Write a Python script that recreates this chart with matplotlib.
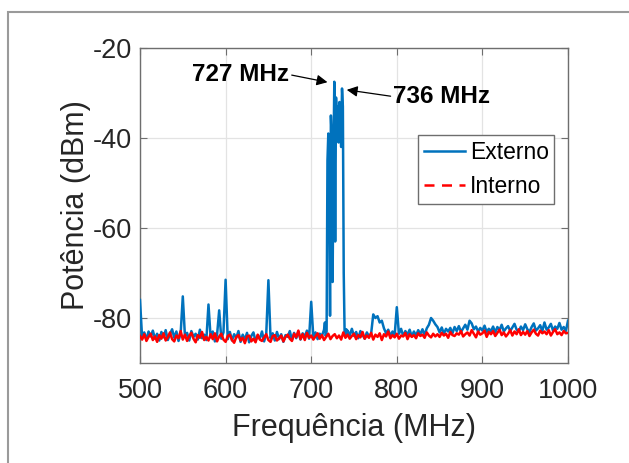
import numpy as np
import matplotlib
matplotlib.use('Agg')
import matplotlib.pyplot as plt
from matplotlib.lines import Line2D
from matplotlib.patches import Rectangle

plt.rcParams['font.family'] = ['Liberation Sans', 'DejaVu Sans']
plt.rcParams['axes.unicode_minus'] = False

# Externo (blue) - lower band 500..715 MHz, step 2.5
ext_low = [
    -76.0, -84.5, -83.2, -84.8, -83.0, -84.1, -82.8, -84.6, -83.5, -85.0,
    -83.1, -84.3, -82.7, -84.9, -83.6, -82.5, -84.4, -83.0, -85.1, -83.4,
    -75.2, -84.0, -83.3, -85.0, -82.9, -84.2, -83.5, -84.8, -82.6, -84.5,
    -83.7, -84.9, -77.0, -84.3, -83.0, -85.2, -83.8, -78.3, -84.6, -83.2,
    -71.5, -84.7, -83.1, -85.0, -83.6, -84.4, -82.9, -85.3, -83.7, -84.8,
    -83.3, -85.4, -84.0, -83.2, -85.1, -83.9, -84.6, -83.0, -85.2, -83.5,
    -71.6, -84.5, -83.4, -85.0, -83.1, -84.7, -83.6, -85.3, -83.8, -84.2,
    -82.9, -84.9, -83.3, -84.5, -83.0, -84.8, -83.4, -84.1, -82.8, -84.6,
    -76.4, -84.3, -83.2, -84.7, -83.5, -84.0, -82.6,
]
# Externo - peak region 716..742 MHz, step 1
ext_peak = [
    -81.0, -84.0, -83.0, -45.0, -39.0, -50.0, -79.5, -35.0, -40.0, -72.0,
    -45.0, -27.5, -63.0, -31.0, -36.0, -33.0, -41.0, -32.0, -37.0, -42.0,
    -29.0, -33.0, -70.0, -83.0, -84.2, -82.5, -83.4,
]
# Externo - upper band 742.5..1000 MHz, step 2.5
ext_high = [
    -82.8, -83.9, -82.4, -84.0, -83.1, -84.5, -82.9, -83.8, -84.6, -83.2,
    -84.1, -83.5, -79.2, -80.0, -79.6, -81.0, -80.6, -82.3, -83.4, -82.6,
    -84.0, -83.0, -83.8, -77.6, -83.5, -82.4, -84.0, -82.9, -83.7, -82.6,
    -84.1, -83.0, -83.9, -82.7, -83.6, -82.5, -83.8, -82.3, -81.5, -80.0,
    -80.6, -81.4, -82.0, -83.2, -82.1, -83.5, -82.4, -83.0, -82.2, -83.4,
    -82.0, -82.9, -81.8, -83.1, -82.3, -81.5, -82.6, -80.6, -81.2, -82.5,
    -81.9, -83.0, -82.2, -82.8, -81.7, -83.1, -82.4, -82.9, -81.9, -83.2,
    -82.0, -82.7, -81.5, -83.0, -82.3, -81.8, -82.9, -82.1, -81.3, -82.6,
    -83.0, -81.9, -82.7, -81.4, -82.5, -83.1, -82.0, -81.2, -82.8, -82.3,
    -81.6, -82.9, -81.0, -82.6, -82.1, -81.3, -82.8, -81.9, -82.4, -81.1,
    -82.6, -82.0, -82.9, -80.6,
]
# Interno (red) 500..1000 MHz, step 2.5
interno = [
    -84.0, -84.8, -83.6, -85.1, -84.2, -83.5, -84.9, -84.1, -85.3, -83.8,
    -84.6, -83.4, -85.0, -84.3, -83.2, -84.7, -85.2, -83.9, -84.5, -82.9,
    -84.8, -83.7, -85.1, -84.0, -83.3, -84.6, -85.4, -83.8, -84.4, -83.1,
    -84.9, -84.2, -85.0, -83.6, -84.7, -83.4, -85.2, -84.1, -83.5, -84.8,
    -85.3, -84.0, -83.7, -84.9, -85.5, -84.2, -83.8, -85.0, -84.4, -85.6,
    -84.1, -83.9, -85.2, -84.6, -85.4, -83.7, -84.8, -85.1, -84.3, -83.6,
    -84.9, -85.3, -84.0, -83.8, -85.0, -84.5, -83.9, -85.2, -84.2, -83.7,
    -84.6, -85.1, -83.5, -84.3, -82.8, -84.7, -83.6, -84.9, -83.3, -84.4,
    -83.9, -84.8, -84.1, -83.4, -84.6, -83.8, -84.9, -84.2, -83.5, -84.7,
    -84.0, -83.6, -84.5, -83.9, -84.8, -83.2, -84.4, -83.7, -84.6, -84.0,
    -83.5, -84.7, -83.8, -84.3, -83.1, -84.6, -83.9, -84.4, -83.3, -84.8,
    -83.7, -84.2, -83.4, -84.9, -83.6, -84.1, -83.0, -84.5, -83.8, -84.3,
    -83.5, -84.6, -83.9, -84.1, -83.3, -84.7, -83.6, -84.2, -83.8, -84.5,
    -83.4, -84.0, -83.7, -84.4, -83.2, -83.9, -84.3, -83.5, -84.1, -83.6,
    -84.2, -83.3, -83.9, -83.5, -84.4, -83.1, -83.8, -84.0, -83.4, -83.7,
    -82.9, -84.1, -83.6, -83.2, -83.9, -82.7, -83.5, -84.3, -83.0, -83.7,
    -83.4, -82.8, -84.2, -83.1, -83.6, -82.9, -84.0, -83.3, -82.6, -83.8,
    -83.2, -84.1, -83.5, -82.7, -83.9, -83.0, -83.6, -82.5, -83.8, -83.1,
    -83.7, -82.9, -84.0, -83.2, -82.6, -83.5, -83.9, -82.8, -83.4, -83.0,
    -83.6, -82.7, -83.9, -83.1, -82.5, -83.6, -83.2, -83.8, -82.9, -83.4,
    -83.3,
]

f_low = np.linspace(500, 715, len(ext_low))
f_peak = np.linspace(716, 742, len(ext_peak))
f_high = np.linspace(742.5, 1000, len(ext_high))
f_ext = np.concatenate([f_low, f_peak, f_high])
p_ext = np.concatenate([ext_low, ext_peak, ext_high])
f_int = np.linspace(500, 1000, len(interno))

xticks = [500, 600, 700, 800, 900, 1000]
yticks = [-80, -60, -40, -20]

blue = '#0072BD'
fig = plt.figure(figsize=(6.29, 4.63), dpi=100)
ax = fig.add_axes([140/629, 1-363/463, 428/629, 315/463])

ax.plot(f_ext, p_ext, color=blue, lw=1.8, zorder=3)
ax.plot(f_int, interno, color='red', lw=1.8, zorder=4)

ax.set_xlim(500, 1000)
ax.set_ylim(-90, -20)
ax.set_xticks(xticks)
ax.set_yticks(yticks)
ax.grid(True, color='#e3e3e3', lw=0.9)
ax.set_axisbelow(True)
ax.tick_params(direction='in', length=5, top=True, right=True,
               labelsize=19.5, colors='#6e6e6e', labelcolor='#262626')
ax.tick_params(axis='x', pad=11)
ax.tick_params(axis='y', pad=6)
for s in ax.spines.values():
    s.set_color('#6e6e6e')
    s.set_linewidth(1.0)

ax.set_xlabel('Frequência (MHz)', fontsize=22, color='#262626', labelpad=6)
ax.set_ylabel('Potência (dBm)', fontsize=22, color='#262626', labelpad=1)

handles = [Line2D([], [], color=blue, lw=1.8),
           Line2D([], [], color='red', lw=1.8, ls=(0, (4, 3)))]
leg = ax.legend(handles, ['Externo', 'Interno'], loc='upper left',
                bbox_to_anchor=(0.65, 0.724), borderaxespad=0, fontsize=16.5,
                handlelength=1.8, handletextpad=0.2, labelspacing=0.5,
                borderpad=0.25, fancybox=False, framealpha=1)
leg.get_frame().set_edgecolor('#6e6e6e')
leg.get_frame().set_linewidth(1.0)

arrow = dict(arrowstyle='-|>', color='black', lw=0.9, mutation_scale=16,
             shrinkA=0, shrinkB=0)
ax.annotate('727 MHz', xy=(719, -27.6), xytext=(674, -25.9),
            ha='right', va='center', fontsize=17.5, fontweight='bold',
            arrowprops=dict(arrow, relpos=(1, 0.5)))
ax.annotate('736 MHz', xy=(741.5, -29.3), xytext=(796, -30.8),
            ha='left', va='center', fontsize=17.5, fontweight='bold',
            arrowprops=dict(arrow, relpos=(0, 0.5)))

fig.patches.append(Rectangle((8/629, -0.1), 1.2, 1.1 - 12/463,
                             transform=fig.transFigure, fill=False,
                             edgecolor='#9a9a9a', lw=1.5))

fig.savefig('out.png', dpi=100)
